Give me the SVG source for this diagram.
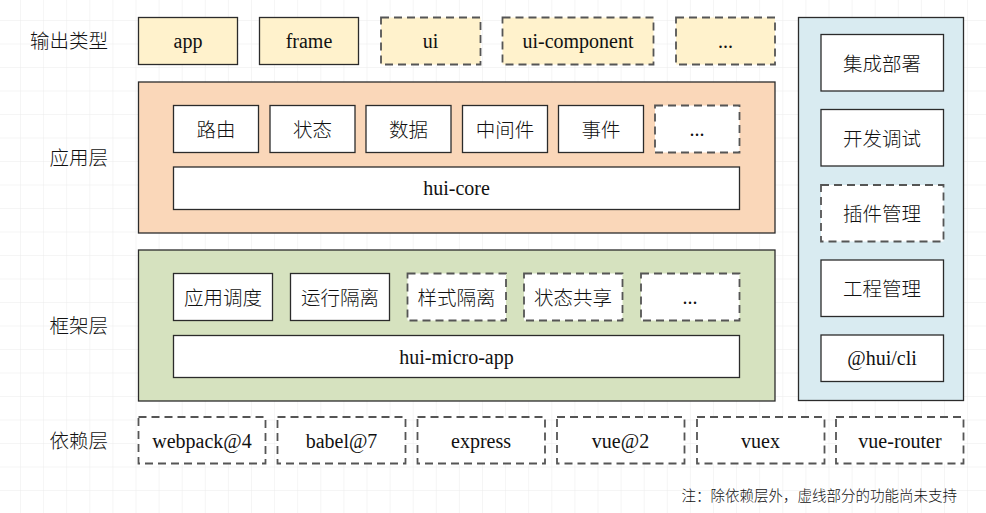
<svg xmlns="http://www.w3.org/2000/svg" width="986" height="513" viewBox="0 0 986 513">
<defs>
<pattern id="grid" x="20" y="20" width="23.1" height="23.5" patternUnits="userSpaceOnUse">
<path d="M0 0V23.5M0 0H23.1" fill="none" stroke="#ebebeb" stroke-width="1"/>
</pattern>
<style>
.box{stroke:#2b2b2b;stroke-width:1.3}
.dash{stroke:#555;stroke-width:1.8;stroke-dasharray:8 5}
.out{fill:#fff2cc}
.w{fill:#ffffff}
.lat{font-family:"Liberation Serif","Times New Roman",serif;font-size:20px;fill:#111;text-anchor:middle;dominant-baseline:central}
.zh{font-family:"Noto Sans CJK SC","Microsoft YaHei",sans-serif;font-size:19.5px;font-weight:300;fill:#111;text-anchor:middle;dominant-baseline:central}
.lbl{font-family:"Noto Sans CJK SC","Microsoft YaHei",sans-serif;font-size:19.5px;font-weight:300;fill:#111;text-anchor:end;dominant-baseline:central}
</style>
</defs>
<rect width="986" height="513" fill="#ffffff"/>
<rect width="986" height="513" fill="url(#grid)"/>

<g id="labels">
<text class="lbl" x="108" y="39.5">输出类型</text>
<text class="lbl" x="108" y="156.5">应用层</text>
<text class="lbl" x="108" y="324">框架层</text>
<text class="lbl" x="108" y="439.5">依赖层</text>
</g>

<g id="out-app"><rect class="box out" x="138.5" y="17.5" width="99" height="47"/><text class="lat" x="188" y="41">app</text></g>
<g id="out-frame"><rect class="box out" x="259.5" y="17.5" width="99" height="47"/><text class="lat" x="309" y="41">frame</text></g>
<g id="out-ui"><rect class="dash out" x="381" y="17.5" width="99.5" height="47"/><text class="lat" x="430.5" y="41">ui</text></g>
<g id="out-uicomp"><rect class="dash out" x="502.5" y="17.5" width="151" height="47"/><text class="lat" x="578" y="41">ui-component</text></g>
<g id="out-more"><rect class="dash out" x="676" y="17.5" width="99" height="47"/><text class="lat" x="725.5" y="41">...</text></g>

<g id="app-layer">
<rect class="box" x="138.5" y="82" width="636.5" height="151" fill="#fad7b9"/>
<g id="app-route"><rect class="box w" x="173.5" y="105.5" width="85" height="47"/><text class="zh" x="216" y="128">路由</text></g>
<g id="app-state"><rect class="box w" x="270" y="105.5" width="85" height="47"/><text class="zh" x="312.5" y="128">状态</text></g>
<g id="app-data"><rect class="box w" x="366" y="105.5" width="85" height="47"/><text class="zh" x="408.5" y="128">数据</text></g>
<g id="app-mw"><rect class="box w" x="462.5" y="105.5" width="85" height="47"/><text class="zh" x="505" y="128">中间件</text></g>
<g id="app-event"><rect class="box w" x="558.5" y="105.5" width="85" height="47"/><text class="zh" x="601" y="128">事件</text></g>
<g id="app-more"><rect class="dash w" x="655" y="105.5" width="84.5" height="47"/><text class="lat" x="697" y="129">...</text></g>
<g id="hui-core"><rect class="box w" x="173.5" y="167" width="566" height="42.5"/><text class="lat" x="456.5" y="188">hui-core</text></g>
</g>

<g id="fw-layer">
<rect class="box" x="138.5" y="250" width="636.5" height="151" fill="#d6e2bf"/>
<g id="fw-sched"><rect class="box w" x="173.5" y="273.5" width="99" height="47"/><text class="zh" x="223" y="296">应用调度</text></g>
<g id="fw-iso"><rect class="box w" x="290.5" y="273.5" width="99" height="47"/><text class="zh" x="340" y="296">运行隔离</text></g>
<g id="fw-style"><rect class="dash w" x="407.5" y="273.5" width="98.5" height="47"/><text class="zh" x="456.5" y="296">样式隔离</text></g>
<g id="fw-share"><rect class="dash w" x="524" y="273.5" width="98.5" height="47"/><text class="zh" x="573" y="296">状态共享</text></g>
<g id="fw-more"><rect class="dash w" x="641" y="273.5" width="98.5" height="47"/><text class="lat" x="690" y="297">...</text></g>
<g id="hui-micro-app"><rect class="box w" x="173.5" y="335.5" width="566" height="42"/><text class="lat" x="456.5" y="356.5">hui-micro-app</text></g>
</g>

<g id="tools">
<rect class="box" x="798.5" y="17.5" width="165" height="383" fill="#d9ebf1"/>
<g id="t-deploy"><rect class="box w" x="821" y="34.5" width="122.5" height="56.5"/><text class="zh" x="882" y="62">集成部署</text></g>
<g id="t-debug"><rect class="box w" x="821" y="109.5" width="122.5" height="56.5"/><text class="zh" x="882" y="137">开发调试</text></g>
<g id="t-plugin"><rect class="dash w" x="821" y="185" width="122.5" height="56.5"/><text class="zh" x="882" y="212">插件管理</text></g>
<g id="t-proj"><rect class="box w" x="821" y="260" width="122.5" height="56.5"/><text class="zh" x="882" y="287">工程管理</text></g>
<g id="t-cli"><rect class="box w" x="821" y="335" width="122.5" height="46.5"/><text class="lat" x="882" y="358">@hui/cli</text></g>
</g>

<g id="deps">
<g id="d-webpack"><rect class="dash w" x="138.5" y="417" width="127" height="46.5"/><text class="lat" x="202" y="440.5">webpack@4</text></g>
<g id="d-babel"><rect class="dash w" x="277.5" y="417" width="128" height="46.5"/><text class="lat" x="341.5" y="440.5">babel@7</text></g>
<g id="d-express"><rect class="dash w" x="417.5" y="417" width="127.5" height="46.5"/><text class="lat" x="481" y="440.5">express</text></g>
<g id="d-vue"><rect class="dash w" x="557" y="417" width="127.5" height="46.5"/><text class="lat" x="620.5" y="440.5">vue@2</text></g>
<g id="d-vuex"><rect class="dash w" x="697" y="417" width="127.5" height="46.5"/><text class="lat" x="760.5" y="440.5">vuex</text></g>
<g id="d-router"><rect class="dash w" x="836" y="417" width="127.5" height="46.5"/><text class="lat" x="900" y="440.5">vue-router</text></g>
</g>

<g id="connectors"></g>

<text x="957" y="494" font-family="'Noto Sans CJK SC','Microsoft YaHei',sans-serif" font-size="14.5" font-weight="300" fill="#111" text-anchor="end" dominant-baseline="central">注：除依赖层外，虚线部分的功能尚未支持</text>
</svg>
